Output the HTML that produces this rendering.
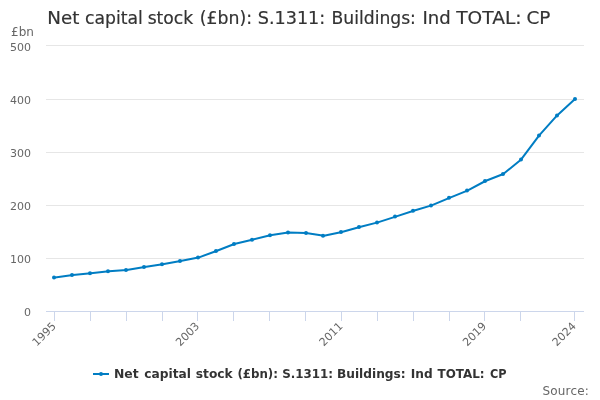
<!DOCTYPE html>
<html><head><meta charset="utf-8"><title>Net capital stock</title>
<style>
html,body{margin:0;padding:0;background:#fff;}
body{width:600px;height:400px;overflow:hidden;}
svg{display:block;font-family:"DejaVu Sans","Liberation Sans",sans-serif;}
</style></head><body>
<svg width="600" height="400" viewBox="0 0 600 400">
<rect x="0" y="0" width="600" height="400" fill="#ffffff"/>

<path d="M 46 45.5 L 584 45.5" stroke="#E6E6E6" stroke-width="1" fill="none"/>
<path d="M 46 99.5 L 584 99.5" stroke="#E6E6E6" stroke-width="1" fill="none"/>
<path d="M 46 152.5 L 584 152.5" stroke="#E6E6E6" stroke-width="1" fill="none"/>
<path d="M 46 205.5 L 584 205.5" stroke="#E6E6E6" stroke-width="1" fill="none"/>
<path d="M 46 258.5 L 584 258.5" stroke="#E6E6E6" stroke-width="1" fill="none"/>
<path d="M 46 311.5 L 584 311.5" stroke="#CCD6EB" stroke-width="1" fill="none"/>
<path d="M 54.5 311 L 54.5 321" stroke="#CCD6EB" stroke-width="1" fill="none"/>
<path d="M 90.5 311 L 90.5 321" stroke="#CCD6EB" stroke-width="1" fill="none"/>
<path d="M 126.5 311 L 126.5 321" stroke="#CCD6EB" stroke-width="1" fill="none"/>
<path d="M 162.5 311 L 162.5 321" stroke="#CCD6EB" stroke-width="1" fill="none"/>
<path d="M 197.5 311 L 197.5 321" stroke="#CCD6EB" stroke-width="1" fill="none"/>
<path d="M 233.5 311 L 233.5 321" stroke="#CCD6EB" stroke-width="1" fill="none"/>
<path d="M 269.5 311 L 269.5 321" stroke="#CCD6EB" stroke-width="1" fill="none"/>
<path d="M 305.5 311 L 305.5 321" stroke="#CCD6EB" stroke-width="1" fill="none"/>
<path d="M 341.5 311 L 341.5 321" stroke="#CCD6EB" stroke-width="1" fill="none"/>
<path d="M 377.5 311 L 377.5 321" stroke="#CCD6EB" stroke-width="1" fill="none"/>
<path d="M 413.5 311 L 413.5 321" stroke="#CCD6EB" stroke-width="1" fill="none"/>
<path d="M 449.5 311 L 449.5 321" stroke="#CCD6EB" stroke-width="1" fill="none"/>
<path d="M 484.5 311 L 484.5 321" stroke="#CCD6EB" stroke-width="1" fill="none"/>
<path d="M 520.5 311 L 520.5 321" stroke="#CCD6EB" stroke-width="1" fill="none"/>
<path d="M 574.5 311 L 574.5 321" stroke="#CCD6EB" stroke-width="1" fill="none"/>
<path d="M 55.0 277.50 L 72.9 274.95 L 90.8 273.15 L 108.8 271.20 L 126.7 270.00 L 144.6 267.00 L 162.6 264.20 L 180.5 261.00 L 198.4 257.60 L 216.4 251.00 L 234.3 244.00 L 252.2 239.80 L 270.2 235.20 L 288.1 232.50 L 306.0 233.00 L 324.0 235.80 L 341.9 232.00 L 359.8 227.00 L 377.8 222.40 L 395.7 216.60 L 413.6 210.80 L 431.6 205.40 L 449.5 197.80 L 467.4 190.60 L 485.4 181.00 L 503.3 174.00 L 521.2 159.40 L 539.2 135.40 L 557.1 115.40 L 575.0 99.00" stroke="#007DC3" stroke-width="2" fill="none" stroke-linejoin="round" stroke-linecap="round"/>
<circle cx="54.0" cy="277.50" r="2" fill="#007DC3"/>
<circle cx="72.0" cy="274.95" r="2" fill="#007DC3"/>
<circle cx="90.0" cy="273.15" r="2" fill="#007DC3"/>
<circle cx="108.0" cy="271.20" r="2" fill="#007DC3"/>
<circle cx="126.0" cy="270.00" r="2" fill="#007DC3"/>
<circle cx="144.0" cy="267.00" r="2" fill="#007DC3"/>
<circle cx="162.0" cy="264.20" r="2" fill="#007DC3"/>
<circle cx="180.0" cy="261.00" r="2" fill="#007DC3"/>
<circle cx="198.0" cy="257.60" r="2" fill="#007DC3"/>
<circle cx="216.0" cy="251.00" r="2" fill="#007DC3"/>
<circle cx="234.0" cy="244.00" r="2" fill="#007DC3"/>
<circle cx="252.0" cy="239.80" r="2" fill="#007DC3"/>
<circle cx="270.0" cy="235.20" r="2" fill="#007DC3"/>
<circle cx="288.0" cy="232.50" r="2" fill="#007DC3"/>
<circle cx="306.0" cy="233.00" r="2" fill="#007DC3"/>
<circle cx="323.0" cy="235.80" r="2" fill="#007DC3"/>
<circle cx="341.0" cy="232.00" r="2" fill="#007DC3"/>
<circle cx="359.0" cy="227.00" r="2" fill="#007DC3"/>
<circle cx="377.0" cy="222.40" r="2" fill="#007DC3"/>
<circle cx="395.0" cy="216.60" r="2" fill="#007DC3"/>
<circle cx="413.0" cy="210.80" r="2" fill="#007DC3"/>
<circle cx="431.0" cy="205.40" r="2" fill="#007DC3"/>
<circle cx="449.0" cy="197.80" r="2" fill="#007DC3"/>
<circle cx="467.0" cy="190.60" r="2" fill="#007DC3"/>
<circle cx="485.0" cy="181.00" r="2" fill="#007DC3"/>
<circle cx="503.0" cy="174.00" r="2" fill="#007DC3"/>
<circle cx="521.0" cy="159.40" r="2" fill="#007DC3"/>
<circle cx="539.0" cy="135.40" r="2" fill="#007DC3"/>
<circle cx="557.0" cy="115.40" r="2" fill="#007DC3"/>
<circle cx="575.0" cy="99.00" r="2" fill="#007DC3"/>
<text y="23.7" font-size="18px" fill="#333333" stroke="#333333" stroke-width="0.2"><tspan x="47.28" textLength="32.08" lengthAdjust="spacingAndGlyphs">Net</tspan> <tspan x="85.04" textLength="57.85" lengthAdjust="spacingAndGlyphs">capital</tspan> <tspan x="147.65" textLength="45.60" lengthAdjust="spacingAndGlyphs">stock</tspan> <tspan x="199.79" textLength="52.31" lengthAdjust="spacingAndGlyphs">(£bn):</tspan> <tspan x="257.77" textLength="67.46" lengthAdjust="spacingAndGlyphs">S.1311:</tspan> <tspan x="331.55" textLength="84.35" lengthAdjust="spacingAndGlyphs">Buildings:</tspan> <tspan x="422.40" textLength="28.26" lengthAdjust="spacingAndGlyphs">Ind</tspan> <tspan x="456.25" textLength="65.29" lengthAdjust="spacingAndGlyphs">TOTAL:</tspan> <tspan x="526.48" textLength="23.97" lengthAdjust="spacingAndGlyphs">CP</tspan></text>
<text x="11" y="36" font-size="12px" fill="#666666">£bn</text>
<text x="31" y="51" font-size="11px" fill="#666666" text-anchor="end">500</text>
<text x="31" y="104" font-size="11px" fill="#666666" text-anchor="end">400</text>
<text x="31" y="157" font-size="11px" fill="#666666" text-anchor="end">300</text>
<text x="31" y="210" font-size="11px" fill="#666666" text-anchor="end">200</text>
<text x="31" y="263" font-size="11px" fill="#666666" text-anchor="end">100</text>
<text x="31" y="316" font-size="11px" fill="#666666" text-anchor="end">0</text>
<text x="56.59666666666667" y="326.9" font-size="11px" fill="#666666" text-anchor="end" transform="rotate(-45 56.59666666666667 326.9)">1995</text>
<text x="200.06333333333333" y="326.9" font-size="11px" fill="#666666" text-anchor="end" transform="rotate(-45 200.06333333333333 326.9)">2003</text>
<text x="343.53" y="326.9" font-size="11px" fill="#666666" text-anchor="end" transform="rotate(-45 343.53 326.9)">2011</text>
<text x="486.99666666666667" y="326.9" font-size="11px" fill="#666666" text-anchor="end" transform="rotate(-45 486.99666666666667 326.9)">2019</text>
<text x="576.6633333333333" y="326.9" font-size="11px" fill="#666666" text-anchor="end" transform="rotate(-45 576.6633333333333 326.9)">2024</text>
<path d="M 93 374 L 109 374" stroke="#007DC3" stroke-width="2" fill="none"/>
<circle cx="101" cy="374" r="2" fill="#007DC3"/>
<text y="378" font-size="12px" font-weight="bold" fill="#333333"><tspan x="113.97" textLength="24.70" lengthAdjust="spacingAndGlyphs">Net</tspan> <tspan x="144.25" textLength="46.64" lengthAdjust="spacingAndGlyphs">capital</tspan> <tspan x="195.75" textLength="36.97" lengthAdjust="spacingAndGlyphs">stock</tspan> <tspan x="237.42" textLength="40.56" lengthAdjust="spacingAndGlyphs">(£bn):</tspan> <tspan x="282.26" textLength="50.88" lengthAdjust="spacingAndGlyphs">S.1311:</tspan> <tspan x="336.98" textLength="68.73" lengthAdjust="spacingAndGlyphs">Buildings:</tspan> <tspan x="410.74" textLength="21.88" lengthAdjust="spacingAndGlyphs">Ind</tspan> <tspan x="437.50" textLength="47.12" lengthAdjust="spacingAndGlyphs">TOTAL:</tspan> <tspan x="490.00" textLength="16.57" lengthAdjust="spacingAndGlyphs">CP</tspan></text>
<text x="542.4" y="395" font-size="12px" fill="#666666" textLength="46.5" lengthAdjust="spacing">Source:</text>
</svg></body></html>
